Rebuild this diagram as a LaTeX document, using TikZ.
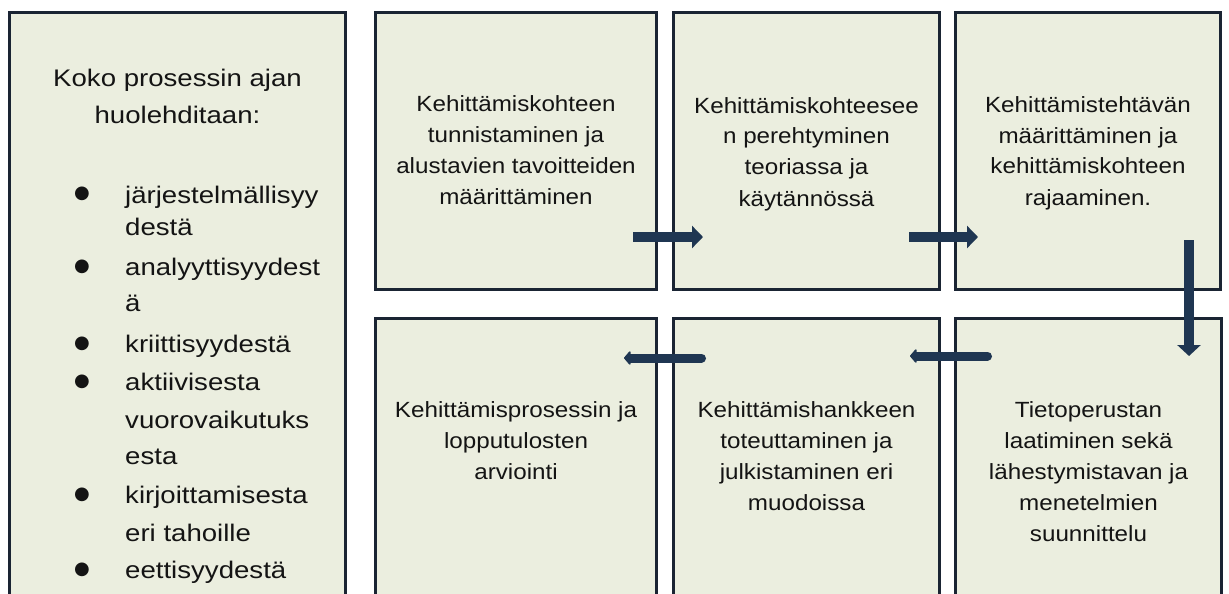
\documentclass[tikz,border=0pt]{standalone}
\usepackage{fontspec}
\setmainfont[FakeStretch=1.1]{Liberation Sans}
\newfontfamily\leftfont[FakeStretch=1.15]{Liberation Sans}
\newfontfamily\bulfont{DejaVu Sans}
\usetikzlibrary{arrows.meta,calc}
\definecolor{boxfill}{HTML}{EBEEDF}
\definecolor{boxline}{HTML}{1A2433}
\definecolor{arrowc}{HTML}{1F3652}
\definecolor{txt}{HTML}{141414}
\begin{document}
\begin{tikzpicture}[x=1pt,y=-1pt,
  panel/.style={draw=boxline,fill=boxfill,line width=3pt,inner sep=0pt,rectangle},
  boxtext/.style={anchor=base,inner sep=0pt,text=txt,font=\fontsize{22}{31}\selectfont},
  bul/.style={inner sep=0pt,text=txt,font=\bulfont\fontsize{18}{18}\selectfont},
  flow/.style={draw=arrowc,line width=9.5pt,-{Triangle[width=22pt,length=11pt]}},
  flowdown/.style={draw=arrowc,line width=10pt,-{Triangle[width=23pt,length=11pt]}},
  back/.style={draw=arrowc,line width=9pt,line cap=round,-{Triangle[width=16pt,length=7pt,round]}},
]
\fill[white] (0,0) rectangle (1229,594);
\useasboundingbox (0,0) rectangle (1229,594);
\clip (0,0) rectangle (1229,594);

% panels
\node[panel,minimum width=336pt,minimum height=640pt] (L) at (177.5,332.5) {};
\node[panel,minimum width=281pt,minimum height=277pt] (b1) at (516,151) {};
\node[panel,minimum width=266pt,minimum height=277pt] (b2) at (806.5,151) {};
\node[panel,minimum width=265pt,minimum height=277pt] (b3) at (1088,151) {};
\node[panel,minimum width=281pt,minimum height=330pt] (b4) at (516,483.5) {};
\node[panel,minimum width=266pt,minimum height=330pt] (b5) at (806.5,483.5) {};
\node[panel,minimum width=266pt,minimum height=330pt] (b6) at (1088.5,483.5) {};

% left panel text
\node[anchor=base,inner sep=0pt,text=txt,font=\leftfont\fontsize{24}{37}\selectfont] (head) at (177.5,86)
  {\begin{tabular}[t]{@{}c@{}}Koko prosessin ajan\\huolehditaan:\end{tabular}};
\node[anchor=base west,inner sep=0pt,text=txt,font=\leftfont\fontsize{24}{36}\selectfont] (list) at (125,203)
  {\begin{tabular}[t]{@{}l@{}}järjestelmällisyy\\[-4pt]destä\\[4pt]analyyttisyydest\\ä\\[5pt]kriittisyydestä\\[2pt]aktiivisesta\\[2pt]vuorovaikutuks\\esta\\[3pt]kirjoittamisesta\\[2pt]eri tahoille\\[1pt]eettisyydestä\end{tabular}};
\node[bul] (u1) at (82,194) {●};
\node[bul] (u2) at (82,266.5) {●};
\node[bul] (u3) at (82,343.5) {●};
\node[bul] (u4) at (82,381.5) {●};
\node[bul] (u5) at (82,494.5) {●};
\node[bul] (u6) at (82,569.5) {●};

% box texts
\node[boxtext] (t1) at ($(b1.north)+(0,100)$)
  {\begin{tabular}[t]{@{}c@{}}Kehittämiskohteen\\tunnistaminen ja\\alustavien tavoitteiden\\määrittäminen\end{tabular}};
\node[boxtext] (t2) at ($(b2.north)+(0,102)$)
  {\begin{tabular}[t]{@{}c@{}}Kehittämiskohteesee\\n perehtyminen\\teoriassa ja\\käytännössä\end{tabular}};
\node[boxtext] (t3) at ($(b3.north)+(0,101)$)
  {\begin{tabular}[t]{@{}c@{}}Kehittämistehtävän\\määrittäminen ja\\kehittämiskohteen\\rajaaminen.\end{tabular}};
\node[boxtext] (t4) at ($(b4.north)+(0,100)$)
  {\begin{tabular}[t]{@{}c@{}}Kehittämisprosessin ja\\lopputulosten\\arviointi\end{tabular}};
\node[boxtext] (t5) at ($(b5.north)+(0,100)$)
  {\begin{tabular}[t]{@{}c@{}}Kehittämishankkeen\\toteuttaminen ja\\julkistaminen eri\\muodoissa\end{tabular}};
\node[boxtext] (t6) at ($(b6.north)+(0,100)$)
  {\begin{tabular}[t]{@{}c@{}}Tietoperustan\\laatiminen sekä\\lähestymistavan ja\\menetelmien\\suunnittelu\end{tabular}};

% arrows
\coordinate (a1s) at (633,237);  \coordinate (a1e) at (703,237);
\coordinate (a2s) at (909,237);  \coordinate (a2e) at (978,237);
\coordinate (a3s) at (1189,240); \coordinate (a3e) at (1189,356);
\coordinate (a4s) at (987.5,356); \coordinate (a4e) at (910,356);
\coordinate (a5s) at (701.5,358); \coordinate (a5e) at (624,358);
\draw[flow] (a1s) -- (a1e);
\draw[flow] (a2s) -- (a2e);
\draw[flowdown] (a3s) -- (a3e);
\draw[back] (a4s) -- (a4e);
\draw[back] (a5s) -- (a5e);
\end{tikzpicture}
\end{document}
